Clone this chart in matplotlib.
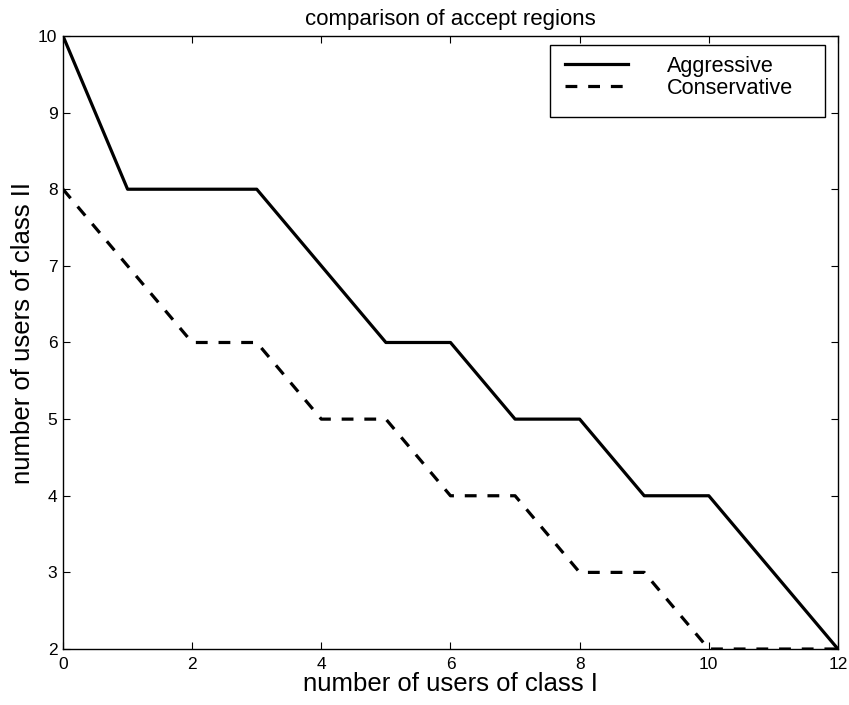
import matplotlib.pyplot as plt
from matplotlib.patches import Rectangle

users_class1 = [0, 1, 2, 3, 4, 5, 6, 7, 8, 9, 10, 11, 12]
aggressive = [10, 8, 8, 8, 7, 6, 6, 5, 5, 4, 4, 3, 2]
conservative = [8, 7, 6, 6, 5, 5, 4, 4, 3, 3, 2, 2, 2]
xticks = [0, 2, 4, 6, 8, 10, 12]
yticks = [2, 3, 4, 5, 6, 7, 8, 9, 10]

plt.rcParams["font.family"] = ["Liberation Sans", "DejaVu Sans"]

fig = plt.figure(figsize=(8.49, 7.05), dpi=100)
ax = fig.add_axes([0.0742, 0.0794, 0.9128, 0.8696])

ax.plot(users_class1, aggressive, color="black", lw=2.3, label="Aggressive")
ax.plot(users_class1, conservative, color="black", lw=2.3,
        linestyle=(0, (3.7, 3.4)), label="Conservative")

ax.set_xlim(0, 12)
ax.set_ylim(2, 10)
ax.set_xticks(xticks)
ax.set_yticks(yticks)
ax.tick_params(direction="in", top=True, right=True, length=5, width=0.8,
               labelsize=12.5)
ax.tick_params(axis="x", pad=6)
ax.tick_params(axis="y", pad=4)
for s in ax.spines.values():
    s.set_linewidth(1.0)

ax.set_title("comparison of accept regions", fontsize=16, pad=8)
ax.set_xlabel("number of users of class I", fontsize=18.5, labelpad=0)
ax.set_ylabel("number of users of class II", fontsize=18.5)
ax.yaxis.set_label_coords(-0.036, 0.515)

# legend box drawn as a plain rectangle, entries placed inside it
ax.add_patch(Rectangle((0.6284, 0.8679), 0.3548, 0.1174, transform=ax.transAxes,
                       facecolor="white", edgecolor="black", lw=1.0, zorder=4))
leg = ax.legend(loc="upper left", bbox_to_anchor=(0.6477, 0.9675),
                fontsize=15.6, frameon=False, handlelength=2.9,
                handletextpad=1.8, borderpad=0, labelspacing=0.05,
                borderaxespad=0)
leg.set_zorder(5)

fig.savefig("out.png", dpi=100)
